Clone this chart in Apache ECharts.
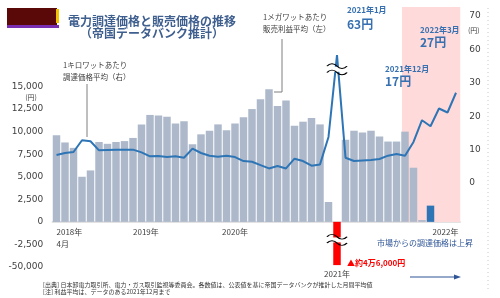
<!DOCTYPE html>
<html>
<head>
<meta charset="utf-8">
<script src="https://cdn.jsdelivr.net/npm/echarts@6/dist/echarts.min.js"></script>
<style>
  html, body { margin: 0; padding: 0; background: #fff; }
  #main { width: 500px; height: 298px; }
</style>
</head>
<body>
<div id="main"></div>
<script>
// 月（2018年4月〜2022年3月）
const months = [
  '2018/4', '2018/5', '2018/6', '2018/7', '2018/8', '2018/9', '2018/10', '2018/11', '2018/12',
  '2019/1', '2019/2', '2019/3', '2019/4', '2019/5', '2019/6', '2019/7', '2019/8', '2019/9', '2019/10', '2019/11', '2019/12',
  '2020/1', '2020/2', '2020/3', '2020/4', '2020/5', '2020/6', '2020/7', '2020/8', '2020/9', '2020/10', '2020/11', '2020/12',
  '2021/1', '2021/2', '2021/3', '2021/4', '2021/5', '2021/6', '2021/7', '2021/8', '2021/9', '2021/10', '2021/11', '2021/12',
  '2022/1', '2022/2', '2022/3'
];

// 1メガワットあたり販売利益平均（円・左軸）… データは2021年12月まで
const profitAvg = [
  9600, 8800, 8200, 5000, 5700, 8850, 8650, 8850, 8950,
  9300, 10800, 11850, 11800, 11650, 10900, 11150, 8600, 9700, 10100, 10800, 10150,
  10900, 11600, 12500, 13600, 14700, 12850, 13450, 10650, 11100, 11500, 10800, 2200,
  -46000, 9100, 10100, 9900, 10100, 9450, 8900, 8900, 10000, 6000, 200, 1800,
  null, null, null
];

// 1キロワットあたり調達価格平均（円・右軸）
const procurePrice = [
  8.4, 9.0, 9.3, 12.8, 12.5, 9.8, 9.9, 10.0, 10.0,
  10.0, 9.2, 8.0, 8.1, 7.8, 8.0, 7.6, 10.3, 9.0, 8.2, 7.9, 8.2,
  7.8, 6.6, 6.4, 5.4, 4.4, 5.1, 4.4, 7.3, 6.6, 5.2, 5.6, 13.8,
  63, 7.6, 6.6, 6.8, 6.9, 7.2, 8.2, 8.7, 8.2, 12.3, 18.8, 17,
  22.3, 21.1, 27
];

const latestMonth = '2021/12';   // 青で強調する月
const pinkFrom = 40.65, pinkTo = 47.5;   // 網掛け（月の並び番号）

// 軸ラベル
const xTickLabels = {
  '2018/4': '2018年\n4月',
  '2019/1': '2019年',
  '2020/1': '2020年',
  '2021/1': '2021年',
  '2022/1': '2022年'
};
const leftBreakLabel = '-50,000';
const rightTickLabels = { 0: '0', 10: '10', 20: '20', 30: '30', 40: '60', 50: '70' };

// 省略（波線）部分の圧縮
const leftBreak = v => v >= -2500 ? v : -2500 + (v + 2500) * 2500 / 47500;
const rightBreak = v => v <= 30 ? v : 30 + (v - 30) * 0.25;

const JP = '"Noto Sans CJK JP"';
const NUM = '"DejaVu Sans"';
const BLUE = '#2e75b6';

const chart = echarts.init(document.getElementById('main'));

const xLabelItems = months.map(m => {
  if (m === '2020/1') return { value: m, textStyle: { align: 'center' } };
  if (m === '2021/1') return { value: m, textStyle: { align: 'center', padding: [42, 0, 0, 0] } };
  if (m === '2022/1') return { value: m, textStyle: { align: 'center', padding: [0, 0, 0, 13] } };
  return m;
});

const barData = profitAvg.map((v, i) => {
  if (v == null) return null;
  let c = '#adb9ca';
  if (v < 0) c = '#ff0000';
  else if (months[i] === latestMonth) c = BLUE;
  return { value: leftBreak(v), itemStyle: { color: c } };
});

const lineData = procurePrice.map((v, i) => [i, rightBreak(v)]);

// 波線（省略記号）
const wave = 'path://M0,3 C3,0 7,0 10,3 C13,6 17,6 20,3 M0,9 C3,6 7,6 10,9 C13,12 17,12 20,9';
const breakMark = coord => ({
  label: { show: false },
  data: [
    { coord: coord, symbol: 'rect', symbolSize: [22, 5], itemStyle: { color: '#fff' } },
    { coord: coord, symbol: wave, symbolSize: [20, 11], symbolKeepAspect: false,
      itemStyle: { color: 'transparent', borderColor: '#000', borderWidth: 1.2 } }
  ]
});

const text = (x, y, t, font, fill, align) => ({
  type: 'text', x: x, y: y, z: 100, silent: true,
  style: { text: t, font: font, fill: fill || '#404040', align: align || 'left', verticalAlign: 'middle' }
});

const option = {
  animation: false,
  grid: [
    { left: 52.25, right: 39.75, top: 86.5, bottom: 31, outerBoundsMode: 'none', containLabel: false },
    { left: 52.25, right: 39.75, top: 7, bottom: 76, outerBoundsMode: 'none', containLabel: false }
  ],
  xAxis: [
    {
      type: 'category', gridIndex: 0, data: xLabelItems,
      axisLine: { onZero: true, lineStyle: { color: '#d9d9d9', width: 1.5 } },
      axisTick: { show: false },
      axisLabel: {
        interval: (i, v) => xTickLabels[v] !== undefined,
        formatter: v => xTickLabels[v] || '',
        align: 'left', verticalAlign: 'top', margin: -41,
        fontSize: 8, lineHeight: 12, color: '#404040', fontFamily: JP
      }
    },
    { type: 'value', gridIndex: 1, min: -0.5, max: 47.5, show: false }
  ],
  yAxis: [
    {
      type: 'value', gridIndex: 0, min: -5000, max: 15000, interval: 2500,
      axisLine: { show: false }, axisTick: { show: false }, splitLine: { show: false },
      axisLabel: {
        margin: 9, fontSize: 9, color: '#404040', fontFamily: NUM,
        formatter: v => v === -5000 ? leftBreakLabel : v.toLocaleString('en-US')
      }
    },
    {
      type: 'value', gridIndex: 1, position: 'right', min: -11.6, max: 52.6,
      axisLine: { show: false }, axisTick: { show: false }, splitLine: { show: false },
      axisLabel: {
        showMinLabel: false, showMaxLabel: false,
        margin: 9, fontSize: 9, color: '#404040', fontFamily: NUM,
        formatter: v => rightTickLabels[v] || ''
      }
    }
  ],
  series: [
    {
      name: '販売利益平均', type: 'bar', xAxisIndex: 0, yAxisIndex: 0,
      data: barData, barWidth: '88%', z: 2,
      markPoint: breakMark(['2021/1', -2000])
    },
    {
      name: '調達価格平均', type: 'line', xAxisIndex: 1, yAxisIndex: 1,
      data: lineData, showSymbol: false, z: 3,
      lineStyle: { color: BLUE, width: 2 }, itemStyle: { color: BLUE },
      markArea: {
        silent: true,
        itemStyle: { color: '#ffdada' },
        data: [[{ xAxis: pinkFrom, yAxis: -11.6 }, { xAxis: pinkTo, yAxis: 52.6 }]]
      },
      markPoint: breakMark([33, 34])
    }
  ],
  graphic: [
    // ロゴ
    { type: 'rect', z: 100, shape: { x: 7, y: 8, width: 50, height: 18 }, style: { fill: '#5a0808' } },
    { type: 'rect', z: 100, shape: { x: 56, y: 9, width: 3, height: 14 }, style: { fill: '#f2c200' } },
    { type: 'rect', z: 100, shape: { x: 7, y: 25, width: 52, height: 3 }, style: { fill: '#7a2fb0' } },
    // タイトル
    text(152, 21, '電力調達価格と販売価格の推移', 'bold 12px ' + JP, '#3f5f8f', 'center'),
    text(152, 33, '（帝国データバンク推計）', 'bold 12px ' + JP, '#3f5f8f', 'center'),
    // 注記
    text(63, 65, '1キロワットあたり', '7.5px ' + JP),
    text(63, 77, '調達価格平均（右）', '7.5px ' + JP),
    { type: 'line', z: 100, shape: { x1: 87, y1: 84, x2: 87, y2: 137 }, style: { stroke: '#7f7f7f', lineWidth: 1 } },
    text(263, 17, '1メガワットあたり', '7.5px ' + JP),
    text(263, 29, '販売利益平均（左）', '7.5px ' + JP),
    { type: 'polyline', z: 100, shape: { points: [[282, 39], [282, 92], [274, 92]] }, style: { stroke: '#7f7f7f', lineWidth: 1, fill: null } },
    text(347, 10, '2021年1月', 'bold 8px ' + JP, '#3670b0'),
    text(347, 24, '63円', 'bold 12px ' + JP, '#3670b0'),
    text(420, 30, '2022年3月', 'bold 8px ' + JP, '#3670b0'),
    text(420, 42, '27円', 'bold 12px ' + JP, '#3670b0'),
    text(385, 69, '2021年12月', 'bold 8px ' + JP, '#3670b0'),
    text(385, 81, '17円', 'bold 12px ' + JP, '#3670b0'),
    text(31, 97, '(円)', '7px ' + JP, '#404040', 'center'),
    text(468, 30, '(円)', '7px ' + JP),
    text(347, 263, '▲約4万6,000円', 'bold 8px ' + JP, '#ff0000'),
    text(377, 243, '市場からの調達価格は上昇', '8px ' + JP, '#2f5597'),
    { type: 'line', z: 100, shape: { x1: 410, y1: 277, x2: 456, y2: 277 }, style: { stroke: '#2f5597', lineWidth: 1.2 } },
    { type: 'polygon', z: 100, shape: { points: [[461, 277], [454, 274.5], [454, 279.5]] }, style: { fill: '#2f5597' } },
    { type: 'line', z: 100, shape: { x1: 488, y1: 8, x2: 488, y2: 290 }, style: { stroke: '#c8c8c8', lineWidth: 1, lineDash: [1, 3] } },
    // 出典
    text(43, 285, '[出典] 日本卸電力取引所、電力・ガス取引監視等委員会。各数値は、公表値を基に帝国データバンクが推計した月間平均値', '6px ' + JP, '#333'),
    text(43, 292, '[注] 利益平均は、データのある2021年12月まで', '6px ' + JP, '#333')
  ]
};

chart.setOption(option);
</script>
</body>
</html>
